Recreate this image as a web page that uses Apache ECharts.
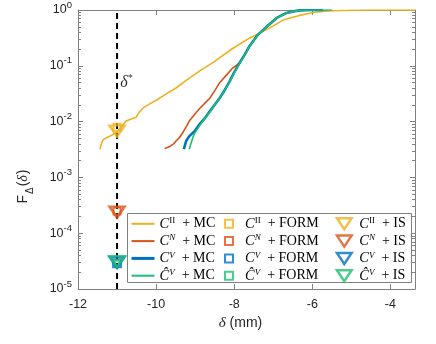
<!DOCTYPE html>
<html>
<head>
<meta charset="utf-8">
<script src="https://cdn.jsdelivr.net/npm/echarts@6/dist/echarts.min.js"></script>
<style>html,body{margin:0;padding:0;background:#fff}#chart{width:436px;height:344px}</style>
</head>
<body>
<div id="chart"></div>
<script>
let cII_MC = [[-11.44, 3.2e-3], [-11.40, 4.0e-3], [-11.36, 4.7e-3], [-11.28, 5.1e-3], [-11.18, 5.5e-3], [-11.08, 6.0e-3],
    [-11.0, 6.5e-3], [-10.9, 7.9e-3], [-10.77, 1.02e-2], [-10.62, 1.12e-2], [-10.51, 1.2e-2], [-10.42, 1.51e-2],
    [-10.34, 1.74e-2], [-10.15, 2.1e-2], [-9.92, 2.6e-2], [-9.66, 3.4e-2], [-9.49, 4.0e-2], [-9.23, 5.5e-2],
    [-8.88, 8.1e-2], [-8.5, 0.12], [-8.04, 0.204], [-7.6, 0.316], [-7.27, 0.41], [-7.0, 0.52], [-6.75, 0.66],
    [-6.33, 0.80], [-5.9, 0.92], [-5.5, 0.97], [-5.0, 0.99], [-4.5, 0.998], [-3.37, 1]];
let cN_MC = [[-9.78, 3.3e-3], [-9.68, 3.5e-3], [-9.62, 3.7e-3], [-9.55, 4.0e-3], [-9.49, 4.5e-3], [-9.40, 5.2e-3],
    [-9.32, 6.3e-3], [-9.22, 8.3e-3], [-9.15, 1.02e-2], [-9.0, 1.38e-2], [-8.89, 1.7e-2], [-8.75, 2.14e-2],
    [-8.63, 2.6e-2], [-8.5, 3.55e-2], [-8.38, 4.9e-2], [-8.2, 6.8e-2], [-8.04, 9.1e-2], [-7.88, 0.11],
    [-7.75, 0.152], [-7.6, 0.232], [-7.4, 0.36], [-7.17, 0.51], [-6.91, 0.73], [-6.66, 0.89], [-6.45, 0.958],
    [-6.32, 0.987], [-6.0, 0.998], [-5.73, 1]];
let cV_MC = [[-9.29, 3.2e-3], [-9.26, 3.8e-3], [-9.23, 4.5e-3], [-9.15, 5.5e-3], [-9.0, 6.9e-3], [-8.89, 8.9e-3],
    [-8.75, 1.15e-2], [-8.63, 1.51e-2], [-8.5, 2.0e-2], [-8.38, 2.6e-2], [-8.25, 3.6e-2], [-8.12, 5.2e-2],
    [-8.0, 7.6e-2], [-7.88, 0.107], [-7.75, 0.151], [-7.6, 0.229], [-7.4, 0.355], [-7.17, 0.50], [-6.91, 0.72],
    [-6.66, 0.885], [-6.45, 0.955], [-6.32, 0.986], [-6.0, 0.998], [-5.73, 1]];
let cVh_MC = [[-9.15, 3.2e-3], [-9.12, 3.8e-3], [-9.08, 4.7e-3], [-9.03, 5.9e-3], [-8.95, 7.2e-3], [-8.81, 1.02e-2],
    [-8.7, 1.26e-2], [-8.6, 1.58e-2], [-8.5, 2.0e-2], [-8.38, 2.6e-2], [-8.25, 3.6e-2], [-8.12, 5.1e-2],
    [-8.0, 7.4e-2], [-7.88, 0.105], [-7.75, 0.15], [-7.6, 0.228], [-7.4, 0.354], [-7.17, 0.50], [-6.91, 0.72],
    [-6.66, 0.885], [-6.45, 0.955], [-6.32, 0.986], [-6.0, 0.998], [-5.49, 1]];

let deltaStar = -11;
// order: C^II, C^N, C^V, C^V hat
let formPf = [7.9e-3, 2.5e-4, 2.9e-5, 2.9e-5];
let isPf = [6.8e-3, 2.4e-4, 3.0e-5, 3.1e-5];
let yDecades = [1e-5, 1e-4, 1e-3, 1e-2, 1e-1, 1];

let keys = ['II', 'N', 'V', 'Vh'];
let curves = [cII_MC, cN_MC, cV_MC, cVh_MC];
let colors = ['#EDB120', '#D95319', '#0072BD', '#1DBF73'];
let lineWidths = [1.6, 1.6, 2.6, 1.6];
let squareSizes = [7, 7, 8, 5];
let prefix = {
    II: '{i|C}{sup|II}',
    N: '{i|C}{supi|N}',
    V: '{i|C}{supi|V}',
    Vh: '{i|Ĉ}{supi|V}'
};
let suffix = {MC: '{t|  + MC}', FORM: '{t|  + FORM}', IS: '{t|  + IS}'};

let minorTicks = [];
for (let k = -5; k < 0; k++) {
    for (let m = 2; m < 10; m++) {
        minorTicks.push(m * Math.pow(10, k));
    }
}

let AX = '#808080';
let TXT = '#262626';
let squarePath = 'path://M0,0H8V8H0Z';
let triPath = 'path://M0,0L16,0L8,12Z';

let legendRich = {
    i: {fontFamily: 'Liberation Serif', fontStyle: 'italic', fontSize: 14.5, lineHeight: 14, color: '#000'},
    sup: {fontFamily: 'Liberation Serif', fontSize: 9, lineHeight: 8, padding: [0, 0, 6, 0], color: '#000'},
    supi: {fontFamily: 'Liberation Serif', fontStyle: 'italic', fontSize: 9, lineHeight: 8, padding: [0, 0, 6, 0], color: '#000'},
    t: {fontFamily: 'Liberation Serif', fontSize: 14, lineHeight: 14, color: '#000'}
};
let legendFormatter = function (name) {
    let parts = name.split('_');
    return prefix[parts[0]] + suffix[parts[1]];
};

let series = [];
let mcNames = [], formNames = [], isNames = [];
for (let i = 0; i < keys.length; i++) {
    series.push({
        name: keys[i] + '_MC',
        type: 'line',
        data: curves[i],
        symbol: 'none',
        lineStyle: {color: colors[i], width: lineWidths[i]},
        itemStyle: {color: colors[i]},
        z: 2 + i
    });
    mcNames.push({name: keys[i] + '_MC', lineStyle: {width: i === 2 ? 3 : 2}, itemStyle: {opacity: 0}});
}
series.push({
    name: 'dstar',
    type: 'line',
    data: [[deltaStar, 1e-5], [deltaStar, 1]],
    symbol: 'none',
    lineStyle: {color: '#000', width: 2, type: [6, 4]},
    z: 6
});
series.push({
    name: 'dstarLabel',
    type: 'scatter',
    data: [[-10.93, 0.0492]],
    symbolSize: 1,
    itemStyle: {color: 'rgba(0,0,0,0)'},
    label: {
        show: true,
        position: 'right',
        distance: 0,
        formatter: '{d|δ}{s|*}',
        rich: {
            d: {fontFamily: 'Liberation Serif', fontStyle: 'italic', fontSize: 16, color: '#000'},
            s: {fontFamily: 'Liberation Serif', fontSize: 10, lineHeight: 10, padding: [0, 0, 10, 0], color: '#000'}
        }
    },
    silent: true
});
for (let i = 0; i < keys.length; i++) {
    series.push({
        name: keys[i] + '_FORM',
        type: 'scatter',
        data: [[deltaStar, formPf[i]]],
        symbol: 'rect',
        symbolSize: squareSizes[i],
        itemStyle: {color: 'rgba(0,0,0,0)', borderColor: colors[i], borderWidth: 2},
        z: 7
    });
    formNames.push({name: keys[i] + '_FORM', itemStyle: {color: 'rgba(0,0,0,0)', borderColor: colors[i], borderWidth: 2}});
}
for (let i = 0; i < keys.length; i++) {
    series.push({
        name: keys[i] + '_IS',
        type: 'scatter',
        data: [[deltaStar, isPf[i]]],
        symbol: triPath,
        symbolSize: [15, 11],
        itemStyle: {color: 'rgba(0,0,0,0)', borderColor: colors[i], borderWidth: 2.5},
        z: 8
    });
    isNames.push({name: keys[i] + '_IS', itemStyle: {color: 'rgba(0,0,0,0)', borderColor: colors[i], borderWidth: 2.5}});
}

let baseLegend = {
    orient: 'vertical',
    top: 216.3,
    padding: 0,
    itemGap: 2.3,
    selectedMode: false,
    formatter: legendFormatter,
    textStyle: {rich: legendRich, lineHeight: 14}
};

let option = {
    animation: false,
    backgroundColor: '#fff',
    grid: {left: 78, top: 8, right: 21, bottom: 55, containLabel: false},
    graphic: [{
        type: 'rect',
        shape: {x: 127.5, y: 213.5, width: 284, height: 69},
        style: {fill: '#fff', stroke: AX, lineWidth: 1},
        z: 3
    }],
    legend: [
        Object.assign({}, baseLegend, {left: 130, itemWidth: 23, itemHeight: 14, data: mcNames}),
        Object.assign({}, baseLegend, {left: 224, itemWidth: 22, itemHeight: 8, icon: squarePath, data: formNames}),
        Object.assign({}, baseLegend, {left: 335.7, itemWidth: 20, itemHeight: 11, icon: triPath, data: isNames})
    ],
    xAxis: [
        {
            type: 'value',
            min: -12,
            max: -3.37,
            interval: 2,
            position: 'bottom',
            axisLine: {show: true, onZero: false, lineStyle: {color: AX}},
            axisTick: {inside: true, length: 5, lineStyle: {color: AX}},
            splitLine: {show: false},
            axisLabel: {
                margin: 9,
                color: TXT,
                fontFamily: 'Liberation Sans',
                fontSize: 12.5,
                formatter: function (v) {
                    return v % 2 === 0 ? String(v) : '';
                }
            },
            name: '{d|δ}{t| (mm)}',
            nameLocation: 'middle',
            nameGap: 26,
            nameTextStyle: {
                padding: [0, 12, 0, 0],
                rich: {
                    d: {fontFamily: 'Liberation Serif', fontStyle: 'italic', fontSize: 15, color: TXT},
                    t: {fontFamily: 'Liberation Sans', fontSize: 14, color: TXT}
                }
            }
        },
        {
            type: 'value',
            min: -12,
            max: -3.37,
            interval: 2,
            position: 'top',
            axisLine: {show: true, onZero: false, lineStyle: {color: AX}},
            axisTick: {inside: true, length: 5, lineStyle: {color: AX}},
            splitLine: {show: false},
            axisLabel: {show: false}
        }
    ],
    yAxis: [
        {
            type: 'log',
            logBase: 10,
            min: 1e-5,
            max: 1,
            position: 'left',
            axisLine: {show: true, onZero: false, lineStyle: {color: AX}},
            axisTick: {inside: true, length: 5, lineStyle: {color: AX}, customValues: yDecades},
            splitLine: {show: false},
            axisLabel: {
                margin: 6,
                customValues: yDecades,
                formatter: function (v) {
                    let e = Math.round(Math.log10(v));
                    return '{b|10}{s|' + e + '}';
                },
                rich: {
                    b: {fontFamily: 'Liberation Sans', fontSize: 12.5, color: TXT},
                    s: {fontFamily: 'Liberation Sans', fontSize: 9.5, lineHeight: 9, padding: [0, 0, 10, 0], color: TXT}
                }
            },
            name: '{f|F}{sub|Δ}{p|(}{d|δ}{p|)}',
            nameLocation: 'middle',
            nameGap: 48,
            nameTextStyle: {
                align: 'center',
                padding: [0, 74, 0, 0],
                rich: {
                    f: {fontFamily: 'Liberation Sans', fontSize: 14, color: TXT},
                    sub: {fontFamily: 'Liberation Sans', fontSize: 10, lineHeight: 10, padding: [14, 0, 0, 1], color: TXT},
                    p: {fontFamily: 'Liberation Sans', fontSize: 14, color: TXT, padding: [0, 0, 0, 1]},
                    d: {fontFamily: 'Liberation Serif', fontStyle: 'italic', fontSize: 14, color: TXT}
                }
            }
        },
        {
            type: 'log',
            logBase: 10,
            min: 1e-5,
            max: 1,
            position: 'left',
            axisLine: {show: false, onZero: false},
            axisTick: {inside: true, length: 3, lineStyle: {color: AX}, customValues: minorTicks},
            splitLine: {show: false},
            axisLabel: {show: false}
        },
        {
            type: 'log',
            logBase: 10,
            min: 1e-5,
            max: 1,
            position: 'right',
            axisLine: {show: true, onZero: false, lineStyle: {color: AX}},
            axisTick: {inside: true, length: 5, lineStyle: {color: AX}, customValues: yDecades},
            splitLine: {show: false},
            axisLabel: {show: false}
        },
        {
            type: 'log',
            logBase: 10,
            min: 1e-5,
            max: 1,
            position: 'right',
            axisLine: {show: false, onZero: false},
            axisTick: {inside: true, length: 3, lineStyle: {color: AX}, customValues: minorTicks},
            splitLine: {show: false},
            axisLabel: {show: false}
        }
    ],
    series: series
};

let chart = echarts.init(document.getElementById('chart'));
chart.setOption(option);
</script>
</body>
</html>
